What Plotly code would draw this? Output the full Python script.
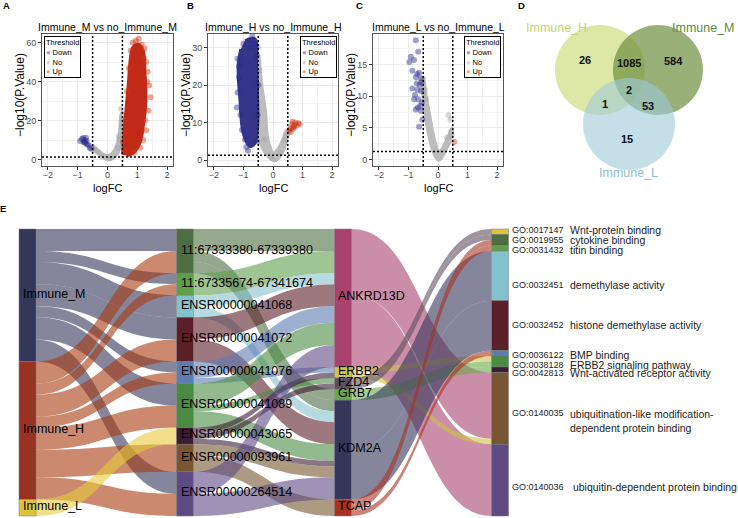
import plotly.graph_objects as go

W, H = 738, 518
FONT = "Liberation Sans, Arial, Helvetica, sans-serif"

fc_cut = 0.5
p_cut_log = 1.3   # -log10(0.05)

# A: Immune_M vs no_Immune_M
a_up_core_x = [0.51, 0.55, 0.62, 0.70, 0.76, 0.85, 1.04, 1.20, 1.26, 1.29, 1.20, 1.09, 0.87, 0.65]
a_up_core_y = [2.5, 13.5, 25.4, 38.9, 50.8, 57.5, 59.2, 55.8, 44.0, 30.5, 16.9, 8.5, 3.4, 2.0]
a_up_x = [1.35, 1.40, 1.30, 1.25, 0.95, 0.85, 1.38, 1.30, 1.20, 1.10, 0.90, 0.55, 0.60, 0.66, 0.72, 1.45, 1.15, 1.33, 1.27, 1.05, 0.78, 1.22, 0.52, 0.58]
a_up_y = [45, 38, 50, 57, 61, 60, 25, 15, 10, 6, 3.5, 5, 20, 35, 47, 32, 59, 40, 20, 62, 56, 52, 9, 14]
a_no_core_x = [-0.52, -0.40, -0.25, -0.12, 0.00, 0.15, 0.30, 0.42, 0.48, 0.52, 0.47, 0.40, 0.32, 0.20, 0.05, -0.10, -0.25, -0.40, -0.50]
a_no_core_y = [6.5, 4.5, 2.5, 0.8, -0.2, 0.4, 2.2, 6.0, 14.0, 24.0, 24.0, 14.0, 8.0, 4.0, 2.2, 2.4, 4.0, 6.0, 7.5]
a_no_x = [-0.55, -0.48, -0.42, -0.33, 0.45, 0.50, 0.40, 0.35, -0.20, 0.10, 0.48, 0.38]
a_no_y = [7, 5.5, 4.8, 3.5, 26, 20, 10, 6, 1.5, 0.8, 17, 12]
a_down_x = [-0.92, -0.86, -0.80, -0.76, -0.75, -0.70, -0.70, -0.65, -0.60, -0.55, -0.82, -0.72, -0.78]
a_down_y = [9.5, 10.5, 9.0, 10.0, 8.5, 9.5, 8.0, 7.5, 6.0, 5.5, 11.0, 11.2, 9.2]

# B: Immune_H vs no_Immune_H
b_down_core_x = [-0.95, -0.61, -0.55, -0.52, -0.52, -0.61, -0.78, -1.01, -1.12, -1.18, -1.09]
b_down_core_y = [31.8, 32.3, 25.1, 16.1, 9.0, 4.5, 3.6, 7.2, 16.1, 25.1, 29.6]
b_down_x = [-1.20, -1.15, -1.20, -1.10, -1.05, -0.95, -0.90, -0.80, -0.70, -0.60, -0.55, -0.50, -0.52, -0.55, -1.00, -1.15, -0.85, -1.22, -0.75]
b_down_y = [27, 22, 18, 12, 8, 5.5, 3.5, 32, 33, 31, 28, 20, 12, 5, 31, 25, 2.5, 14, 30]
b_no_core_x = [-0.55, -0.53, -0.52, -0.50, -0.35, -0.15, 0.05, 0.20, 0.35, 0.50, 0.52, 0.45, 0.30, 0.15, 0.02, -0.10, -0.20, -0.25, -0.38, -0.47]
b_no_core_y = [29.0, 20.0, 12.7, 6.5, 3.0, 0.8, -0.2, 0.5, 2.5, 6.5, 7.8, 7.8, 4.8, 2.8, 1.8, 3.5, 7.0, 12.7, 20.0, 28.0]
b_no_x = [-0.50, -0.45, 0.55, 0.48, 0.40, -0.05, 0.25, -0.30]
b_no_y = [30, 24, 7.8, 6.5, 5.2, 0.5, 2.0, 5.5]
b_up_x = [0.60, 0.65, 0.70, 0.75, 0.80, 0.90, 0.60, 0.68, 0.72, 0.55, 0.85, 0.66]
b_up_y = [8.5, 9.5, 9.0, 10.0, 9.2, 9.6, 7.5, 8.3, 8.8, 8.0, 9.8, 10.3]

# C: Immune_L vs no_Immune_L
c_down_x = [-0.75, -0.67, -0.92, -0.97, -0.81, -0.87, -0.64, -0.75, -0.58, -0.87, -0.70, -0.58, -0.81, -0.67, -0.55, -0.75, -0.58, -0.64, -0.53, -0.72, -0.62, -0.78, -0.60, -0.68, -0.70, -0.56]
c_down_y = [18.8, 17.0, 16.2, 15.4, 15.7, 14.0, 13.7, 13.0, 12.8, 11.2, 11.0, 10.8, 9.5, 9.5, 9.0, 7.9, 7.7, 5.2, 6.3, 12.0, 11.8, 10.2, 8.5, 8.2, 13.5, 12.2]
c_no_core_x = [-0.56, -0.50, -0.42, -0.32, -0.20, -0.08, 0.02, 0.12, 0.25, 0.38, 0.48, 0.47, 0.36, 0.24, 0.12, 0.02, -0.08, -0.17, -0.28, -0.40, -0.48]
c_no_core_y = [12.5, 9.5, 6.5, 4.0, 1.8, 0.4, -0.1, 0.3, 1.3, 2.6, 4.2, 5.0, 3.8, 2.6, 1.6, 1.3, 2.5, 4.2, 7.0, 10.0, 13.0]
c_no_x = [0.35, 0.42, 0.45, -0.45, -0.52, -0.40, 0.30, -0.50, 0.46]
c_no_y = [7.0, 6.3, 4.5, 11.0, 12.8, 9.5, 3.5, 10.5, 3.8]
c_up_x = [0.55]
c_up_y = [2.8]

volcano_titles = ["Immune_M vs no_Immune_M", "Immune_H vs no_Immune_H", "Immune_L vs no_Immune_L"]

# ---------------- venn data ----------------
venn_sets = ["Immune_H", "Immune_M", "Immune_L"]
venn_counts = ["26", "1085", "584", "2", "1", "53", "15"]   # H, H&M, M, H&M&L, H&L, M&L, L

# ---------------- alluvial data ----------------
groups = ["Immune_M", "Immune_H", "Immune_L"]
regions = ["11:67333380-67339380", "11:67335674-67341674", "ENSR00000041068", "ENSR00000041072",
           "ENSR00000041076", "ENSR00000041089", "ENSR00000043065", "ENSR00000093961", "ENSR00000264514"]
genes = ["ANKRD13D", "ERBB2", "FZD4", "GRB7", "KDM2A", "TCAP"]
go_ids = ["GO:0017147", "GO:0019955", "GO:0031432", "GO:0032451", "GO:0032452",
          "GO:0036122", "GO:0038128", "GO:0042813", "GO:0140035", "GO:0140036"]
go_terms = ["Wnt-protein binding", "cytokine binding", "titin binding", "demethylase activity",
            "histone demethylase activity", "BMP binding", "ERBB2 signaling pathway",
            "Wnt-activated receptor activity", "ubiquitination-like modification-<br>dependent protein binding",
            " ubiquitin-dependent protein binding"]

gr_src = ["Immune_M"] * 7 + ["Immune_H"] * 7 + ["Immune_L"]
gr_tgt = [regions[i] for i in (0, 1, 2, 3, 4, 5, 8)] + [regions[i] for i in (0, 1, 3, 4, 5, 7, 8)] + [regions[6]]
gr_val = [4, 2, 4, 4, 2, 4, 4, 4, 2, 4, 2, 4, 5, 4, 3]

rg_src = [regions[i] for i in (0, 0, 0, 1, 2, 2, 3, 3, 4, 4, 5, 5, 5, 6, 6, 6, 7, 7, 8, 8)]
rg_tgt = ["ANKRD13D", "GRB7", "KDM2A", "ANKRD13D", "ANKRD13D", "KDM2A", "ANKRD13D", "KDM2A", "ANKRD13D", "ERBB2",
          "ANKRD13D", "FZD4", "KDM2A", "ERBB2", "FZD4", "KDM2A", "KDM2A", "TCAP", "ANKRD13D", "KDM2A"]
rg_val = [4, 2, 2, 4, 2, 2, 4, 4, 3, 1, 4, 1, 3, 1, 1, 1, 2, 3, 4, 4]

gg_src = ["ANKRD13D", "ANKRD13D", "ERBB2", "ERBB2", "FZD4", "FZD4", "GRB7", "GRB7", "KDM2A", "KDM2A", "TCAP", "TCAP", "TCAP"]
gg_tgt = ["GO:0140035", "GO:0140036", "GO:0038128", "GO:0140035", "GO:0017147", "GO:0019955", "GO:0038128",
          "GO:0042813", "GO:0032451", "GO:0032452", "GO:0019955", "GO:0031432", "GO:0036122"]
gg_val = [12, 13, 1, 1, 1, 1, 1, 1, 9, 9, 1, 1, 1]

group_colors = ["#34365a", "#9a3224", "#dcc33a"]
group_flow_colors = ["#34365a", "#a83c10", "#e8cc3a"]
region_colors = ["#4d6e42", "#5f9f4c", "#83c1cc", "#5b1f2a", "#5d7cb0", "#4b8a42", "#3b1c36", "#775631", "#5e4b83"]
gene_colors = ["#a9426e", "#cfc24a", "#5d4c5c", "#6aa94a", "#34365a", "#a8321f"]
go_colors = ["#dcc33a", "#4d6e42", "#5f9f4c", "#83c1cc", "#5b1f2a", "#5d7cb0", "#4b8a42", "#3b1c36", "#775631", "#5e4b83"]


def px(x):
    return x / W


def py(y):
    return 1 - y / H


def rgba(hx, a):
    return "rgba(%d,%d,%d,%.2f)" % (int(hx[1:3], 16), int(hx[3:5], 16), int(hx[5:7], 16), a)


def label(x, y, text, size, color="black", xanchor="center", yanchor="middle", **kw):
    fig.add_annotation(x=px(x), y=py(y), xref="paper", yref="paper", text=text, showarrow=False,
                       xanchor=xanchor, yanchor=yanchor, font=dict(size=size, color=color, family=FONT), **kw)


fig = go.Figure()

# ---------------- volcano panels ----------------
DOWN, NO, UP = "#2b2b8f", "#a6a6a6", "#cc3311"
DOWN_CORE, NO_CORE, UP_CORE = "#35358c", "#bcbcbc", "#c22a18"

panels = [
    dict(no_core=(a_no_core_x, a_no_core_y), no=(a_no_x, a_no_y), down_core=None, down=(a_down_x, a_down_y),
         up_core=(a_up_core_x, a_up_core_y), up=(a_up_x, a_up_y)),
    dict(no_core=(b_no_core_x, b_no_core_y), no=(b_no_x, b_no_y), down_core=(b_down_core_x, b_down_core_y),
         down=(b_down_x, b_down_y), up_core=None, up=(b_up_x, b_up_y)),
    dict(no_core=(c_no_core_x, c_no_core_y), no=(c_no_x, c_no_y), down_core=None, down=(c_down_x, c_down_y),
         up_core=None, up=(c_up_x, c_up_y)),
]
plot_px = [(42, 173), (208, 338), (373, 503)]
y_ranges = [[-3.3, 64.4], [-1.6, 33.6], [-1.0, 19.8]]
y_dticks = [(20, 10), (10, 5), (5, 2.5)]
top_px, bot_px = 34, 166

for i, p in enumerate(panels):
    xa = "x" if i == 0 else "x%d" % (i + 1)
    ya = "y" if i == 0 else "y%d" % (i + 1)
    for key, core_col, pt_col in (("no", NO_CORE, NO), ("down", DOWN_CORE, DOWN), ("up", UP_CORE, UP)):
        core = p[key + "_core"]
        if core:
            fig.add_trace(go.Scatter(x=core[0], y=core[1], xaxis=xa, yaxis=ya, mode="lines", fill="toself",
                                     fillcolor=core_col, line=dict(color=core_col, width=3, shape="spline"),
                                     hoverinfo="skip", showlegend=False))
        fig.add_trace(go.Scatter(x=p[key][0], y=p[key][1], xaxis=xa, yaxis=ya, mode="markers",
                                 marker=dict(size=6, color=pt_col, opacity=0.45, line=dict(width=0)),
                                 hoverinfo="skip", showlegend=False))

    sfx = "" if i == 0 else str(i + 1)
    l, r = plot_px[i]
    common = dict(showgrid=True, gridcolor="#ebebeb", gridwidth=1, zeroline=False, showline=True, mirror=True,
                  linecolor="#555555", linewidth=1, ticks="outside", ticklen=3, tickcolor="#333333",
                  tickfont=dict(size=9, color="#4d4d4d", family=FONT))
    fig.layout["xaxis" + sfx] = dict(common, domain=[px(l), px(r)], anchor=ya, range=[-2.2, 2.2], dtick=1, tick0=0,
                                     ticklabelstandoff=-3,
                                     minor=dict(dtick=0.5, tick0=0, showgrid=True, gridcolor="#f3f3f3", gridwidth=0.6))
    fig.layout["yaxis" + sfx] = dict(common, domain=[py(bot_px), py(top_px)], anchor=xa, range=y_ranges[i],
                                     dtick=y_dticks[i][0], tick0=0,
                                     minor=dict(dtick=y_dticks[i][1], tick0=0, showgrid=True, gridcolor="#f3f3f3",
                                                gridwidth=0.6))
    # threshold lines
    for xv in (-fc_cut, fc_cut):
        fig.add_shape(type="line", xref=xa, yref=ya + " domain", x0=xv, x1=xv, y0=0, y1=1,
                      line=dict(color="black", width=1.5, dash="2px,2px"))
    fig.add_shape(type="line", xref=xa + " domain", yref=ya, x0=0, x1=1, y0=p_cut_log, y1=p_cut_log,
                  line=dict(color="black", width=1.5, dash="2px,2px"))

    cx = (l + r) / 2
    label(cx, 27.5, volcano_titles[i], 10.5)
    label(cx, 188, "logFC", 11)
    label(l - 22, 95, "\u2212log10(P.Value)", 12, textangle=-90)

    # legend box
    legend_txt = ("Threshold<br><span style='color:#9a9ad6'>\u25cf</span> Down<br>"
                  "<span style='color:#d6d6d6'>\u25cf</span> No<br>"
                  "<span style='color:#eaa98c'>\u25cf</span> Up")
    if i == 0:
        lx, anchor = l + 1.5, "left"
    else:
        lx, anchor = r - 1.5, "right"
    label(lx, 36, legend_txt, 7.5, xanchor=anchor, yanchor="top", align="left", bgcolor="white",
          bordercolor="black", borderwidth=1, borderpad=1)

# ---------------- venn ----------------
venn_circles = [(600, 70, 45, "#c8d86a", 0.6), (658, 70, 45, "#6a8a3a", 0.68), (629, 124, 46, "#9ccad8", 0.6)]
for cx, cy, rr, col, a in venn_circles:
    fig.add_shape(type="circle", xref="paper", yref="paper", x0=px(cx - rr), x1=px(cx + rr),
                  y0=py(cy + rr), y1=py(cy - rr), fillcolor=rgba(col, a), line=dict(width=0))
venn_label_pos = [(556, 28, "#c5d56c"), (703, 28, "#5e8a3c"), (628, 173, "#8cc0d0")]
for name, (x, y, col) in zip(venn_sets, venn_label_pos):
    label(x, y, name, 12.5, color=col)
venn_num_pos = [(585, 60), (629, 63), (673, 61), (629, 90), (605, 104), (648, 106), (627, 139)]
for txt, (x, y) in zip(venn_counts, venn_num_pos):
    label(x, y, "<b>%s</b>" % txt, 11, color="#111111")

# ---------------- alluvial (sankey) ----------------
columns = [groups, regions, genes, go_ids]
col_colors = [group_colors, region_colors, gene_colors, go_colors]
col_cx = [27.5, 185, 343, 500]
thick = 17
sk_top, sk_bot = 229, 516

names = [n for c in columns for n in c]
idx = {n: k for k, n in enumerate(names)}
colors = [c for cc in col_colors for c in cc]
flow_base = dict(zip(names, colors))
flow_base.update(dict(zip(groups, group_flow_colors)))
src = gr_src + rg_src + gg_src
tgt = gr_tgt + rg_tgt + gg_tgt
val = gr_val + rg_val + gg_val

flow_in = {n: 0 for n in names}
flow_out = {n: 0 for n in names}
for s, t, v in zip(src, tgt, val):
    flow_out[s] += v
    flow_in[t] += v
node_val = {n: max(flow_in[n], flow_out[n]) for n in names}
total = sum(node_val[n] for n in groups)

node_x, node_y, centers = [], [], {}
for ci, col in enumerate(columns):
    cum = 0
    for n in col:
        yc = (cum + node_val[n] / 2) / total
        cum += node_val[n]
        node_x.append(col_cx[ci] / W)
        node_y.append(yc)
        centers[n] = sk_top + yc * (sk_bot - sk_top)

fig.add_trace(go.Sankey(
    arrangement="fixed",
    domain=dict(x=[0, 1], y=[py(sk_bot), py(sk_top)]),
    node=dict(label=[""] * len(names), x=node_x, y=node_y, pad=0, thickness=thick, color=colors,
              line=dict(color="#777777", width=0.5), hoverinfo="skip"),
    link=dict(source=[idx[s] for s in src], target=[idx[t] for t in tgt], value=val,
              color=[rgba(flow_base[s], 0.6) for s in src], hoverinfo="skip"),
))

# node labels
for ci, col in enumerate(columns[:3]):
    off = 2 if ci < 2 else 1
    for n in col:
        label(col_cx[ci] - thick / 2 + off, centers[n] - 1.5, n, 12.5, xanchor="left")
# GO labels sit where the original placed them (not always at the box centre)
go_label_y = [230, 239.5, 249.5, 285, 325, 354.5, 364.5, 372.5, 413, 486.5]
for gid, term, yl in zip(go_ids, go_terms, go_label_y):
    label(col_cx[3] + thick / 2 + 1, yl, gid, 9, color="#222222", xanchor="left")
    two = "<br>" in term
    label(568, yl - 7 if two else yl, term, 10.5, color="#222222", xanchor="left",
          yanchor="top" if two else "middle", align="left")

# panel letters
for letter, (x, y) in zip("ABCDE", [(6, 6), (190, 6), (359, 6), (521, 6), (3, 208)]):
    label(x, y, "<b>%s</b>" % letter, 9.5)

fig.update_layout(width=W, height=H, margin=dict(l=0, r=0, t=0, b=0), paper_bgcolor="white",
                  plot_bgcolor="white", showlegend=False, font=dict(family=FONT))

fig.write_html("out.html", config={"displayModeBar": False},
               post_script="document.body.style.margin='0px';")
